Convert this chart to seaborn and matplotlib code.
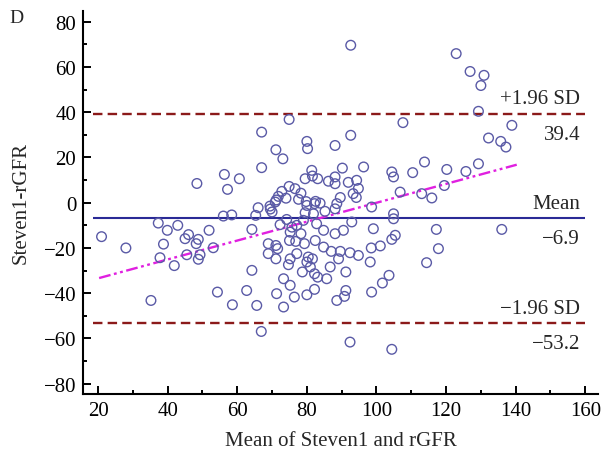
import matplotlib
matplotlib.use("Agg")
import matplotlib.pyplot as plt
import seaborn as sns
import pandas as pd
from matplotlib.ticker import MultipleLocator

# mean of the two methods (x) and their difference (y)
mean_vals = [
    21, 28, 48.4, 37.3, 42.9, 39.9, 51.9, 46, 45, 48.8, 38.8, 48.2, 53.1, 37.8,
    45.5, 49.3, 48.8, 41.9, 35.2, 54.3, 56,
    56.3, 57.2, 60.6, 67, 67, 71.1, 73.1, 74.9, 80, 80.2, 88.1, 74.9, 76.6,
    78.3, 72.8, 71.8, 71.2, 74, 77.6, 79.8, 82.5, 83.8, 81.4, 79.5, 81.6,
    83.1, 86.2, 88.1, 88.1,
    66, 69.4, 70.9, 65.3, 58.4, 69.5, 70, 80, 82.2, 79.5, 81.9, 85.2, 88.1,
    64.2, 72.3, 74.2, 75.7, 77.1, 79, 82.8, 78.3, 75.2, 75, 76.8, 79.3, 82.4,
    84.8, 88.1, 68.9, 71.1, 71.6, 68.9, 71.1, 77.1, 75.2, 74.7, 80.4, 81.6,
    80, 81, 78.7, 82.2, 83.1, 85.7, 84.8, 87, 86.7, 64.2, 73.3, 75.2, 82.2,
    80, 76.4, 71.3, 62.7, 58.6, 65.6, 73.3, 66.9, 88.6,
    92.6, 107.6, 92.6, 90.2, 96.3, 91.9, 94.3, 94.8, 93.3, 89.6, 94.2, 104.4,
    104.9, 110.4, 106.8, 98.6, 104.9, 104.9, 92.9, 88.6, 99.1, 90.5, 105.4,
    104.4, 89.6, 89.1, 92.4, 94.8, 98.5, 101.1, 98.2, 91.2, 103.6, 101.7,
    98.6, 91.2, 90.8, 92.4, 104.4,
    117.2, 117.8, 114.4, 136, 113.8, 120.2, 125.7, 129.3, 119.5, 115.9, 113,
    122.9, 126.9, 130.9, 130, 129.3, 138.9, 132.2, 135.7, 137.2,
]
diff_vals = [
    -15, -20, 8.5, -9, -10, -12.2, -12.2, -14.1, -15.9, -16.2, -18.3, -18.1,
    -19.9, -24.3, -23, -23, -25, -27.8, -43.2, -39.5, -5.9,
    12.5, 5.9, 10.6, 31.2, 15.5, 23.4, 19.4, 36.8, 27.1, 23.9, 25.3, 7.2, 6.2,
    4.2, 5, 2.8, 1.2, 2, 1.5, 0.5, 0.6, -0.2, 14.3, 10.6, 11.8, 10.6, 9.5,
    11.4, 8.4,
    -2.2, -1.5, 0.3, -5.6, -5.4, -2.8, -4.1, -1.2, -0.4, -4.4, -4.9, -3.8,
    -2.7, -11.8, -9.7, -7.4, -10.8, -10, -7.8, -9.3, -13.7, -13, -16.7, -17.1,
    -18.1, -16.7, -12.2, -13.7, -18.1, -18.9, -20.3, -22.5, -24.8, -22.5,
    -24.8, -27.4, -24, -24.8, -26.2, -28.4, -30.6, -31.4, -32.9, -33.6, -19.6,
    -21.5, -28.4, -29.9, -33.6, -36.5, -38.3, -40.7, -41.7, -40.2, -38.8,
    -45.1, -45.4, -46.1, -56.9, -43.2,
    69.6, 35.4, 29.8, 15.3, 15.8, 9, 9.9, 6.3, 4, 2.3, 2.3, 13.6, 11.4, 13.3,
    4.7, -1.9, -4.9, -7.1, -8.5, -0.4, -11.5, -12.2, -14.4, -16.2, -21.5,
    -24.8, -22.1, -23.3, -20, -19.1, -26.2, -30.6, -32.1, -35.5, -39.5, -38.8,
    -41.4, -61.6, -64.8,
    -11.8, -20.3, -26.5, -11.8, 18, 14.7, 13.8, 17.2, 7.6, 2.1, 4, 65.9, 58,
    56.3, 51.8, 40.4, 34.2, 28.6, 27.1, 24.6,
]

# limits of agreement and regression of difference on mean
line_names = ["+1.96 SD", "Mean", "\u22121.96 SD"]
line_vals = [39.4, -6.9, -53.2]
line_labels = ["39.4", "\u22126.9", "\u221253.2"]
reg_x = [20.3, 140.3]
reg_y = [-33.3, 16.8]

df = pd.DataFrame({"mean": mean_vals, "diff": diff_vals})

sns.set_style("ticks")
plt.rcParams["font.family"] = ["Liberation Serif", "DejaVu Serif"]
plt.rcParams["axes.unicode_minus"] = True

fig = plt.figure(figsize=(6.11, 4.56), dpi=100)
ax = fig.add_axes([0.136, 0.134, 0.843, 0.840])

sns.scatterplot(
    data=df, x="mean", y="diff", ax=ax, marker="o", s=48,
    facecolor="none", edgecolor="#5a5aa6", linewidth=1.0, zorder=3,
)

ax.hlines(line_vals[0], 18.5, 160, colors="#8b1a1a", linestyles=(0, (4, 2.2)), lw=1.7)
ax.hlines(line_vals[2], 18.5, 160, colors="#8b1a1a", linestyles=(0, (4, 2.2)), lw=1.7)
ax.hlines(line_vals[1], 18.5, 160, colors="#2a2a96", lw=1.5)
sns.lineplot(x=reg_x, y=reg_y, ax=ax, color="#e020e0", lw=1.7,
             linestyle=(0, (5, 1.5, 1.2, 1.5, 1.2, 1.5)))

for name, val, lab in zip(line_names, line_vals, line_labels):
    ax.annotate(name, (158.5, val), xytext=(0, 4), textcoords="offset points",
                ha="right", va="bottom", fontsize=15)
    ax.annotate(lab, (158.5, val), xytext=(0, -8), textcoords="offset points",
                ha="right", va="top", fontsize=15)

ax.set_xlim(15.7, 163.7)
ax.set_ylim(-84.5, 84.8)
ax.xaxis.set_major_locator(MultipleLocator(20))
ax.xaxis.set_minor_locator(MultipleLocator(10))
ax.yaxis.set_major_locator(MultipleLocator(20))
ax.yaxis.set_minor_locator(MultipleLocator(10))
ax.tick_params(which="both", direction="in", width=1.4, labelsize=15, colors="black", pad=5)
ax.tick_params(which="major", length=6)
ax.tick_params(which="minor", length=3)
for side in ["left", "bottom"]:
    ax.spines[side].set_linewidth(1.5)
    ax.spines[side].set_color("black")
sns.despine(ax=ax)

ax.set_xlabel("Mean of Steven1 and rGFR", fontsize=15, labelpad=8)
ax.set_ylabel("Steven1-rGFR", fontsize=15, labelpad=9)
fig.text(0.016, 0.96, "D", fontsize=14, va="center")

fig.savefig("out.png", dpi=100)
